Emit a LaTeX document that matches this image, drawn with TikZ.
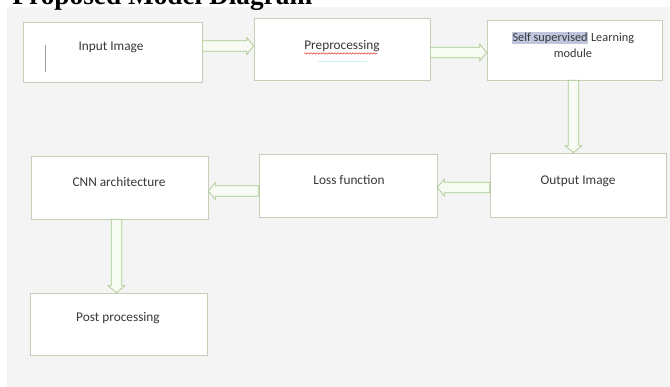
\documentclass[tikz,border=0pt]{standalone}
\usepackage{fontspec}
\setmainfont{Carlito}
\newfontfamily\headfont{Liberation Serif}
\usetikzlibrary{calc,decorations.pathmorphing}
\definecolor{bggrey}{HTML}{F4F4F4}
\definecolor{boxline}{HTML}{C4CEB8}
\definecolor{arrowgreen}{HTML}{A8C98A}
\definecolor{arrowfill}{HTML}{F8FAF4}
\definecolor{textc}{HTML}{383838}
\definecolor{hlblue}{HTML}{BFC5DD}
\definecolor{caretc}{HTML}{A0A0A0}
\definecolor{squig}{HTML}{E03030}
\definecolor{cyanline}{HTML}{CDEFF6}
\newcommand\blockarrow[2]{%
  \draw[arrowshape] let \p1=(#1), \p2=(#2),
    \n1={atan2(\y2-\y1,\x2-\x1)}, \n2={veclen(\x2-\x1,\y2-\y1)} in
    {[shift={(\p1)}, rotate=\n1]
     (0pt,5.3pt) -- ({\n2-7pt},5.3pt) -- ({\n2-7pt},8.5pt) -- ({\n2+0pt},0pt)
     -- ({\n2-7pt},-8.5pt) -- ({\n2-7pt},-5.3pt) -- (0pt,-5.3pt) -- cycle};}
\begin{document}
\begin{tikzpicture}[x=1pt,y=-1pt,
  box/.style={draw=boxline, fill=white, line width=0.7pt, inner sep=0pt},
  txt/.style={text=textc, inner sep=0pt, font=\fontsize{13.3}{16}\selectfont, align=center},
  arrowshape/.style={draw=arrowgreen, fill=arrowfill, line width=0.7pt, line join=miter}
]
\useasboundingbox (0,0) rectangle (670,387);
\fill[white] (0,0) rectangle (670,387);
\fill[bggrey] (7,7) rectangle (670,387);
\node[anchor=base west, inner sep=0pt, font=\headfont\bfseries\fontsize{27.3}{30}\selectfont] (title) at (12.3,5) {Proposed Model Diagram};

% boxes
\node[box, minimum width=179, minimum height=60] (in)   at (112.5,52) {};
\node[box, minimum width=176, minimum height=62] (pre)  at (342,49) {};
\node[box, minimum width=175, minimum height=60] (self) at (574.5,50) {};
\node[box, minimum width=177, minimum height=63] (cnn)  at (119.5,187.5) {};
\node[box, minimum width=178, minimum height=63] (loss) at (348,185.5) {};
\node[box, minimum width=176, minimum height=64] (out)  at (578,185) {};
\node[box, minimum width=177, minimum height=62] (post) at (118.5,324) {};

% texts
\node[txt] (inT)   at (111,47) {Input Image};
\node[txt] (preT)  at (342,46) {Preprocessing};
\node[txt, font=\fontsize{12.3}{16}\selectfont] (selfT) at (573,45) {{\setlength\fboxsep{0.6pt}\colorbox{hlblue}{Self supervised}} Learning\\module};
\node[txt] (cnnT)  at (119,182) {CNN architecture};
\node[txt] (lossT) at (349,180) {Loss function};
\node[txt] (outT)  at (578,181) {Output Image};
\node[txt] (postT) at (118,318) {Post processing};

% editing marks
\draw[caretc, line width=0.6pt] (45,45) -- (45,72);
\draw[squig, line width=0.5pt, decorate, decoration={snake, amplitude=0.7pt, segment length=3pt}] (preT.south west) ++(0,1.5) -- ++(73,0);
\draw[cyanline, line width=1pt] (318,62) -- (367,62);

% connectors
\coordinate (r1) at (0,46);
\coordinate (r2) at (0,52.5);
\coordinate (c1) at (573.5,0);
\coordinate (r3) at (0,187.5);
\coordinate (r4) at (0,191);
\coordinate (c2) at (116.5,0);
\blockarrow{in.east |- r1}{pre.west |- r1}
\blockarrow{pre.east |- r2}{self.west |- r2}
\blockarrow{self.south -| c1}{out.north -| c1}
\blockarrow{out.west |- r3}{loss.east |- r3}
\blockarrow{loss.west |- r4}{cnn.east |- r4}
\blockarrow{cnn.south -| c2}{post.north -| c2}
\end{tikzpicture}
\end{document}
